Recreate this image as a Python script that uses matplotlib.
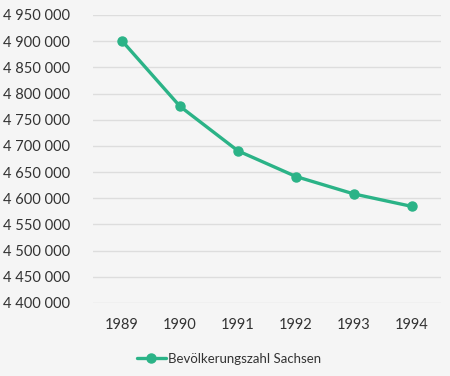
import matplotlib
matplotlib.use("Agg")
import matplotlib.pyplot as plt
from matplotlib.ticker import FuncFormatter

years = ["1989", "1990", "1991", "1992", "1993", "1994"]
population = [4900675, 4775500, 4690500, 4641500, 4608200, 4584400]
series_name = "Bevölkerungszahl Sachsen"
y_ticks = list(range(4400000, 4950001, 50000))

plt.rcParams['font.family'] = ['Lato', 'DejaVu Sans']

bg = "#f5f5f5"
color = "#2bb387"

fig = plt.figure(figsize=(4.5, 3.76), dpi=100, facecolor=bg)
ax = fig.add_axes([93/450, 1 - 303/376, (441-93)/450, (303-15)/376], facecolor=bg)

x = list(range(len(years)))
ax.plot(x, population, color=color, lw=2.4, marker="o", markersize=6.5,
        solid_capstyle="round", label=series_name, zorder=3)

ax.set_xlim(-0.5, len(years) - 0.5)
ax.set_xticks(x)
ax.set_xticklabels(years)
ax.set_ylim(y_ticks[0], y_ticks[-1])
ax.set_yticks(y_ticks)

def fmt(v, pos):
    return f"{int(v):,}".replace(",", " ")
ax.yaxis.set_major_formatter(FuncFormatter(fmt))

ax.grid(axis="y", color="#dddddd", lw=1.0, zorder=0)
ax.grid(axis="x", visible=False)
for s in ax.spines.values():
    s.set_visible(False)
ax.tick_params(axis="both", length=0, labelsize=10.5, colors="#333333")
ax.tick_params(axis="y", pad=16.5)
ax.tick_params(axis="x", pad=11)

leg = fig.legend(loc="center", bbox_to_anchor=(229/450, 1 - 359/376), frameon=False,
                 fontsize=9.5, handlelength=2.2, handletextpad=0.2, labelcolor="#333333")

fig.savefig("out.png", dpi=100, facecolor=bg)
